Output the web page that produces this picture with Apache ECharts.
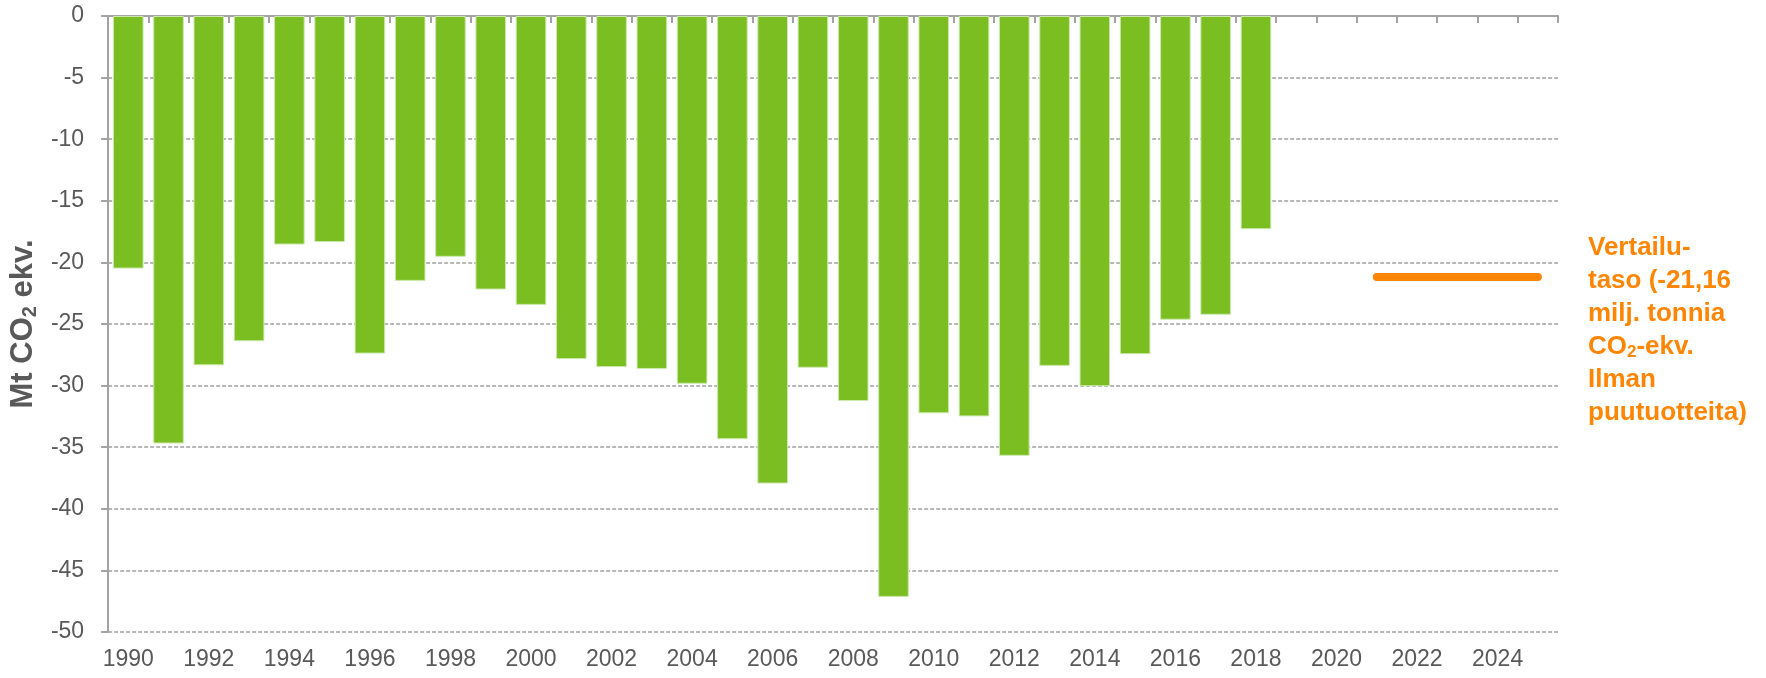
<!DOCTYPE html>
<html>
<head>
<meta charset="utf-8">
<script src="https://cdn.jsdelivr.net/npm/echarts@6/dist/echarts.min.js"></script>
<style>
  html, body { margin: 0; padding: 0; background: #fff; }
  #chart { width: 1766px; height: 678px; }
</style>
</head>
<body>
<div id="chart"></div>
<script>
//  vuodet (kategoriat)
const years = ['1990', '1991', '1992', '1993', '1994', '1995', '1996', '1997', '1998', '1999',
    '2000', '2001', '2002', '2003', '2004', '2005', '2006', '2007', '2008', '2009',
    '2010', '2011', '2012', '2013', '2014', '2015', '2016', '2017', '2018', '2019',
    '2020', '2021', '2022', '2023', '2024', '2025'];

//  nielu, Mt CO2-ekv.
const sinkValues = [-20.5, -34.7, -28.35, -26.4, -18.55, -18.35, -27.4, -21.5, -19.55, -22.2,
    -23.45, -27.85, -28.5, -28.65, -29.85, -34.35, -37.95, -28.55, -31.25, -47.15,
    -32.25, -32.5, -35.7, -28.4, -30.05, -27.45, -24.65, -24.25, -17.3];

//  vertailutaso
const refValue = -21.16;
const refYears = ['2021', '2025'];

const yTicks = [0, -5, -10, -15, -20, -25, -30, -35, -40, -45, -50];

const FONT = 'Liberation Sans, Arial, sans-serif';
const GREY_TEXT = '#595959';
const ORANGE = '#FF8604';
const AXIS_GREY = '#A3A3A3';

const chart = echarts.init(document.getElementById('chart'));

const refLabel = String(refValue).replace('.', ',');

chart.setOption({
    backgroundColor: '#ffffff',
    animation: false,
    grid: { left: 103, right: 208, top: 16, bottom: 46, containLabel: false },
    xAxis: [{
        //  alareunan vuosiluvut
        type: 'category',
        data: years,
        position: 'bottom',
        boundaryGap: true,
        axisLine: { show: false },
        axisTick: { show: false },
        axisLabel: {
            interval: 1,
            margin: 16,
            color: GREY_TEXT,
            fontSize: 23,
            fontFamily: FONT
        },
        splitLine: { show: false }
    }, {
        //  nollataso ylhäällä
        type: 'category',
        data: years,
        position: 'top',
        boundaryGap: true,
        axisLine: { show: true, lineStyle: { color: AXIS_GREY, width: 2 } },
        axisTick: { show: true, inside: true, length: 7, lineStyle: { color: AXIS_GREY, width: 2 } },
        axisLabel: { show: false },
        splitLine: { show: false }
    }],
    yAxis: {
        type: 'value',
        min: yTicks[yTicks.length - 1],
        max: yTicks[0],
        interval: 5,
        name: 'Mt CO{sub|2} ekv.',
        nameLocation: 'middle',
        nameRotate: 90,
        nameGap: 63,
        nameTextStyle: {
            color: GREY_TEXT,
            fontSize: 31,
            fontWeight: 'bold',
            fontFamily: FONT,
            rich: {
                sub: {
                    color: GREY_TEXT,
                    fontSize: 20,
                    fontWeight: 'bold',
                    fontFamily: FONT,
                    padding: [13, 0, 0, 0]
                }
            }
        },
        axisLine: { show: true, lineStyle: { color: AXIS_GREY, width: 2 } },
        axisTick: { show: true, length: 7, lineStyle: { color: AXIS_GREY, width: 2 } },
        axisLabel: {
            margin: 24,
            color: GREY_TEXT,
            fontSize: 23,
            fontFamily: FONT
        },
        splitLine: {
            show: true,
            lineStyle: { color: '#A0A0A0', width: 1.5, type: [4, 2] }
        }
    },
    series: [{
        type: 'bar',
        xAxisIndex: 0,
        data: sinkValues,
        barWidth: '76%',
        itemStyle: {
            color: '#7ABE22',
            borderColor: '#CDE8AE',
            borderWidth: 1
        },
        markLine: {
            silent: true,
            symbol: 'none',
            label: { show: false },
            lineStyle: { color: ORANGE, width: 8, type: 'solid', cap: 'round' },
            data: [[
                { xAxis: refYears[0], yAxis: refValue },
                { xAxis: refYears[1], yAxis: refValue }
            ]]
        }
    }],
    graphic: [{
        type: 'text',
        left: 1588,
        top: 231,
        style: {
            text: 'Vertailu-\ntaso (' + refLabel + '\nmilj. tonnia\nCO{sub|2}-ekv.\nIlman\npuutuotteita)',
            fill: ORANGE,
            fontSize: 26,
            fontWeight: 'bold',
            fontFamily: FONT,
            lineHeight: 33,
            rich: {
                sub: {
                    fill: ORANGE,
                    fontSize: 17,
                    fontWeight: 'bold',
                    fontFamily: FONT,
                    lineHeight: 33,
                    padding: [12, 0, 0, 0]
                }
            }
        }
    }]
});
</script>
</body>
</html>
